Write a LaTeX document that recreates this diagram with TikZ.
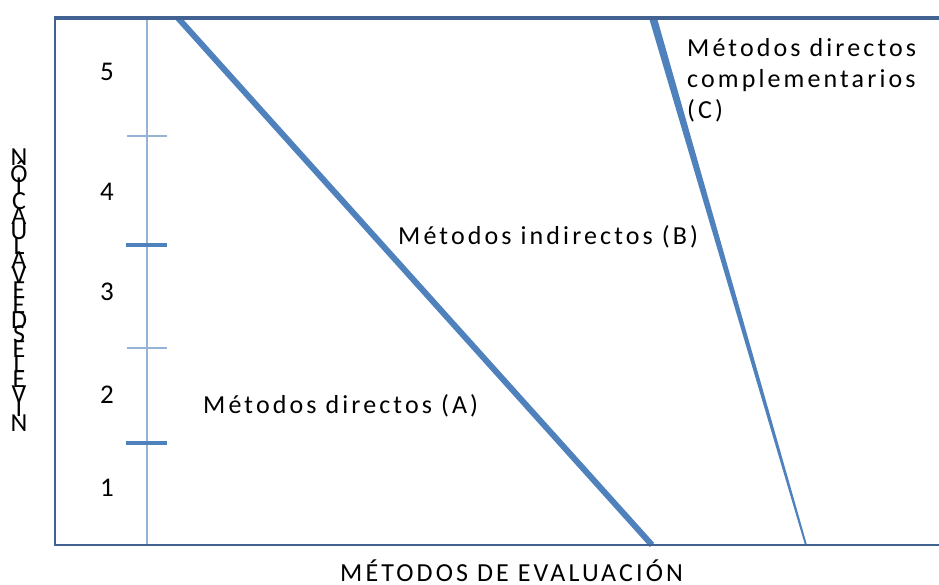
\documentclass[tikz,border=0pt]{standalone}
\usepackage{fontspec}
\setmainfont{Carlito}
\newfontfamily\spacedfont[LetterSpace=12]{Carlito}

\definecolor{frameblue}{RGB}{66,98,145}
\definecolor{lineblue}{RGB}{79,129,189}
\definecolor{axisblue}{RGB}{149,179,215}

\begin{document}
\begin{tikzpicture}[x=1pt, y=-1pt,
  lbl/.style={inner sep=0pt, anchor=base west, font=\spacedfont\fontsize{26}{31}\selectfont},
  digit/.style={inner sep=0pt, font=\fontsize{27}{30}\selectfont},
  vletter/.style={inner sep=0pt, font=\fontsize{26}{26}\selectfont},
  thintick/.style={axisblue, line width=1.3},
  thicktick/.style={lineblue, line width=4}]
\useasboundingbox (0,0) rectangle (939,585);

% scale on the left
\draw[axisblue, line width=1.5] (147,18) -- (147,545);
\draw[thintick] (127,136) -- (167,136);
\draw[thintick] (127,348) -- (167,348);
\draw[thicktick] (126,245) -- (167,245);
\draw[thicktick] (126,443) -- (167,443);

\foreach \n/\y in {5/72, 4/192, 3/292, 2/395, 1/488}
  \node[digit] (lvl\n) at (107,\y) {\n};

% the two dividing lines
\draw[lineblue, line width=6] (178,18) -- (652,545);
\fill[lineblue] (649,18) -- (657,18) -- (807,545) -- (805,545) -- cycle;

% frame
\draw[frameblue, line width=1.8] (55,18) -- (55,545) -- (939,545);
\draw[frameblue, line width=4.5] (54,18) -- (939,18);

% labels
\node[lbl] (metA) at (203,413) {Métodos directos (A)};
\node[lbl] (metB) at (398,245) {Métodos indirectos (B)};
\node[lbl, anchor=north west, align=left] (metC) at (687,38)
  {Métodos directos\\complementarios\\(C)};
\node[lbl] (xaxis) at (340,581) {MÉTODOS DE EVALUACIÓN};

% stacked axis title
\foreach \l [count=\i from 0] in {N,Ó,I,C,A,U,L,A,V,E,E,D,S,E,L,E,V,I,N}
  \node[vletter] (v\i) at (19,157+14.8*\i) {\l};

\end{tikzpicture}
\end{document}
